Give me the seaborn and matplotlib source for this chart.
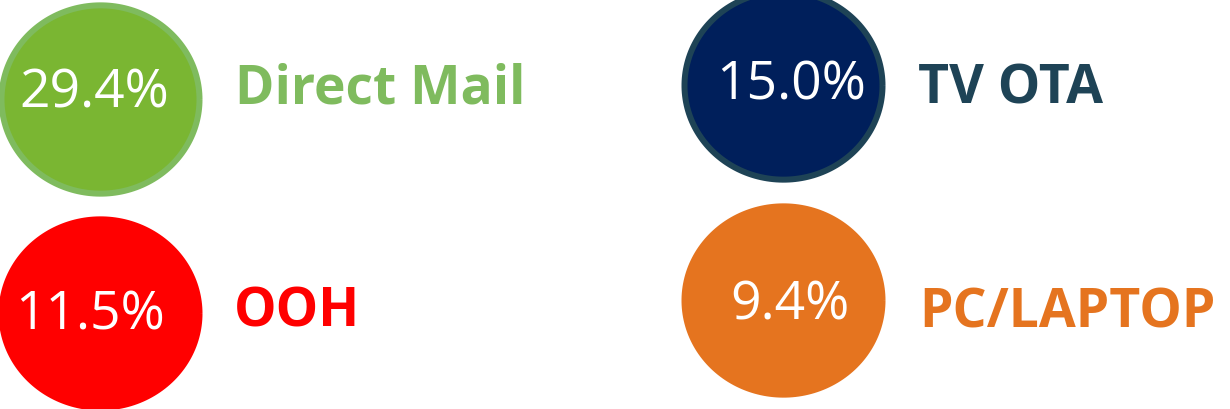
import numpy as np
import matplotlib
matplotlib.use("Agg")
import matplotlib.pyplot as plt
import seaborn as sns
import pandas as pd

# ---- data ----
categories = ["Direct Mail", "TV OTA", "OOH", "PC/LAPTOP"]
shares = [29.4, 15.0, 11.5, 9.4]
fill_colors = ["#7ab632", "#001f5b", "#ff0000", "#e5741f"]
edge_colors = ["#7fbb5e", "#1e4356", "#ff0000", "#e5741f"]
label_colors = ["#7fbb5e", "#1e4356", "#ff0000", "#e5741f"]

# ---- layout (pixel coordinates) ----
W, H, DPI = 1230, 410, 100
circle_x = [99.5, 783, 99.5, 783]
circle_y = [100, 86, 314, 301]
pct_x = [94.5, 791.5, 90, 790]
pct_base = [108, 100, 330, 320]
lab_x = [235, 918, 234, 919]
lab_base = [103, 103, 327, 328]

sns.set_theme(style="white")
plt.rcParams["font.family"] = ["Open Sans", "DejaVu Sans"]

fig = plt.figure(figsize=(W / DPI, H / DPI), dpi=DPI)
ax = fig.add_axes([0, 0, 1, 1])

df = pd.DataFrame({"category": categories, "share": shares,
                   "x": circle_x, "y": circle_y})

t = np.linspace(0, 2 * np.pi, 200)
ellipse = np.column_stack([np.cos(t) * 1.0, np.sin(t) * (97 / 102)])

edge_px = 6
marker_w_pt = (204 - edge_px) * 72 / DPI
for i, row in df.iterrows():
    sns.scatterplot(data=df.iloc[[i]], x="x", y="y", ax=ax, marker=ellipse,
                    s=marker_w_pt ** 2, color=fill_colors[i],
                    edgecolor=edge_colors[i], linewidth=edge_px * 72 / DPI,
                    legend=False, zorder=2)

for i, (cat, val) in enumerate(zip(categories, shares)):
    ax.text(pct_x[i], pct_base[i], f"{val:.1f}%", color="white",
            fontsize=38.5, ha="center", va="baseline", zorder=3)
    ax.text(lab_x[i], lab_base[i], cat, color=label_colors[i],
            fontsize=38.5, fontweight="bold", ha="left", va="baseline", zorder=3)

ax.set_xlim(0, W)
ax.set_ylim(H, 0)
ax.axis("off")
fig.savefig("out.png", dpi=DPI)
